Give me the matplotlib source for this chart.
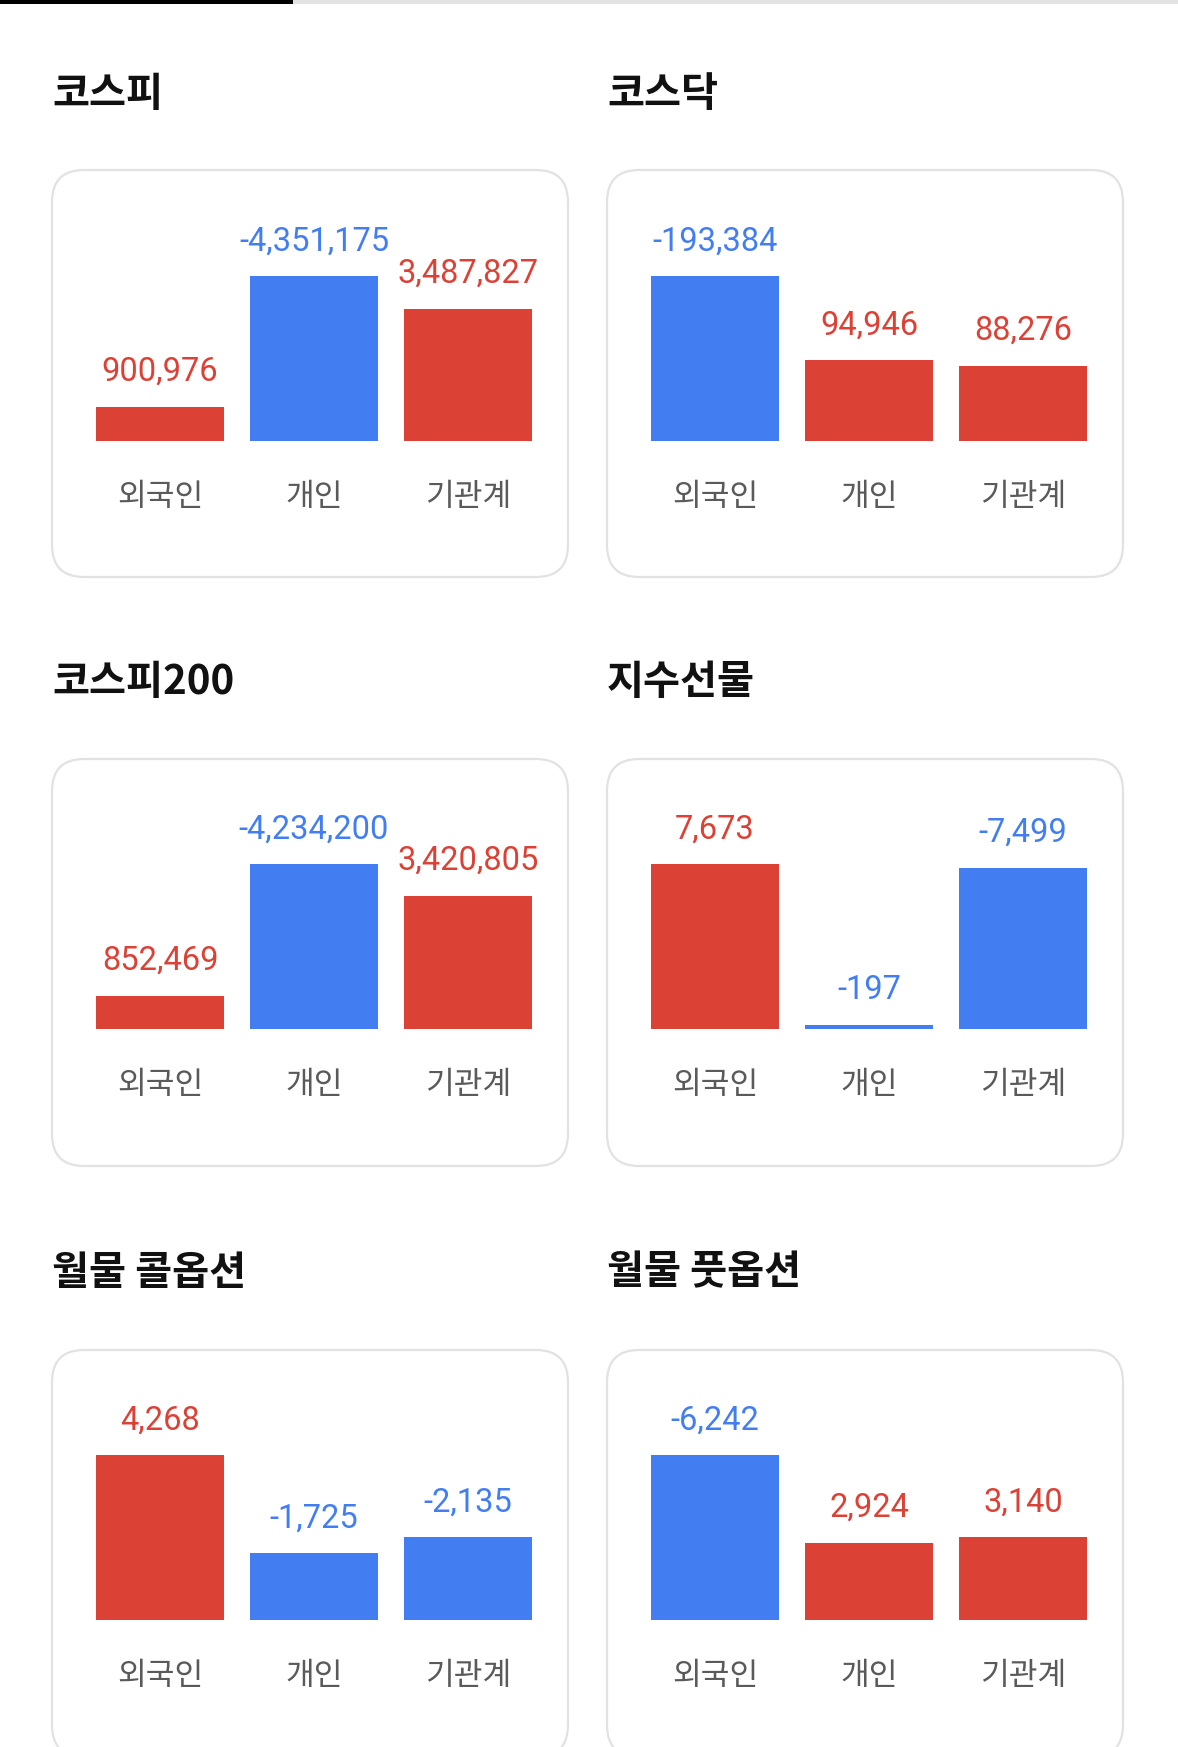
import numpy as np
import matplotlib.pyplot as plt
from matplotlib.patches import FancyBboxPatch, Rectangle

# ================================
# Data
# ================================
titles = ['코스피', '코스닥', '코스피200', '지수선물', '월물 콜옵션', '월물 풋옵션']
categories = ['외국인', '개인', '기관계']

kospi = [900976, -4351175, 3487827]
kosdaq = [-193384, 94946, 88276]
kospi200 = [852469, -4234200, 3420805]
futures = [7673, -197, -7499]
call_opt = [4268, -1725, -2135]
put_opt = [-6242, 2924, 3140]

series = [kospi, kosdaq, kospi200, futures, call_opt, put_opt]

RED = '#db4135'
BLUE = '#427ef2'
W, H = 1178, 1747

# ================================
# Figure + pixel background axes
# ================================
fig = plt.figure(figsize=(W / 100, H / 100), dpi=100)
fig.patch.set_facecolor('white')
bg = fig.add_axes([0, 0, 1, 1])
bg.set_xlim(0, W)
bg.set_ylim(H, 0)
bg.axis('off')

# top tab bar
bg.add_patch(Rectangle((0, 0), 293, 4, color='black', lw=0))
bg.add_patch(Rectangle((293, 0), W - 293, 4, color='#e2e2e2', lw=0))

card_left = [52, 607]
card_top = [170, 759, 1350]
card_w, card_h = 516, 407
title_y = [94, 683, 1273]
baseline = [441, 1029, 1620]
bar_px = 165          # height of tallest bar in each card
step = 154            # distance between bar centres

for k, (title, vals) in enumerate(zip(titles, series)):
    row, col = divmod(k, 2)
    x0 = card_left[col]

    bg.text(x0, title_y[row], title, fontsize=29, fontweight='bold',
            family=['Noto Sans CJK KR', 'DejaVu Sans'], color='#111111',
            va='center', ha='left')

    card = FancyBboxPatch((x0, card_top[row]), card_w, card_h,
                          boxstyle='round,pad=0,rounding_size=32',
                          fc='white', ec='#e2e2e2', lw=1.6)
    bg.add_patch(card)

    # bar axes: x from first bar centre - step/2, bottom at baseline
    c0 = x0 + 108
    left = (c0 - step / 2) / W
    width = 3 * step / W
    bottom = 1 - baseline[row] / H
    height = bar_px / H
    ax = fig.add_axes([left, bottom, width, height])
    ax.patch.set_alpha(0)
    ax.axis('off')

    vals = np.array(vals)
    mags = np.abs(vals)
    colors = [RED if v > 0 else BLUE for v in vals]
    x = np.arange(len(vals))
    ax.bar(x, mags, width=0.83, color=colors)
    ax.set_xlim(-0.5, 2.5)
    ax.set_ylim(0, mags.max())

    for i, v in enumerate(vals):
        ax.annotate(f'{v:,}', (i, mags[i]), xytext=(0, 25), textcoords='offset points',
                    ha='center', va='center', fontsize=23.5, family='Roboto',
                    color=colors[i], annotation_clip=False)
        ax.annotate(categories[i], (i, 0), xytext=(0, -40.5), textcoords='offset points',
                    ha='center', va='center', fontsize=22.5,
                    family=['Noto Sans CJK KR', 'DejaVu Sans'], color='#5a5a5a',
                    annotation_clip=False)

plt.savefig('out.png', dpi=100)
plt.close()
